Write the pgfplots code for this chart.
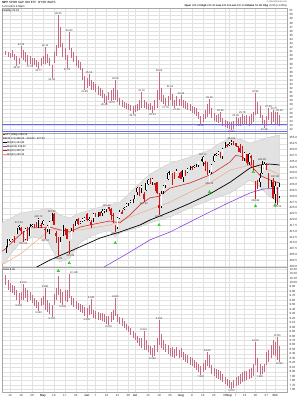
\documentclass[border=0pt]{standalone}
\usepackage{fontspec}
\setmainfont{Liberation Sans}
\usepackage{pgfplots}
\usepackage{pgfplotstable}
\pgfplotsset{compat=1.18}
\definecolor{barpink}{RGB}{200,105,130}
\definecolor{candred}{RGB}{210,20,20}
\definecolor{mapurple}{RGB}{140,70,220}
\definecolor{maorange}{RGB}{240,160,120}
\definecolor{arrowgreen}{RGB}{40,210,40}
\definecolor{gridgray}{RGB}{226,226,226}
\definecolor{bandgray}{RGB}{226,226,226}
\newcommand\tf{\fontsize{3}{3.4}\selectfont}
\newcommand\vf{\fontsize{2.6}{3}\selectfont}
\newcommand\lab[4]{\node[font=\vf, text=black!80, anchor=#4, inner sep=0.5pt] at (axis cs:#1,#2) {#3};}

\pgfplotstableread{
i h l
-2 41.17 40.19
-1 40.92 39.70
0 40.68 39.46
1 41.41 39.70
2 40.43 38.97
3 39.95 37.51
4 39.46 37.99
5 42.39 39.46
6 41.41 38.97
7 40.92 38.48
8 40.19 37.75
9 39.95 37.99
10 39.46 37.51
11 39.46 37.75
12 38.97 37.26
13 38.48 36.77
14 39.46 37.51
15 39.95 37.99
16 42.14 37.99
17 40.43 38.24
18 39.46 37.51
19 37.75 34.58
20 40.92 38.24
21 42.63 39.95
22 49.95 41.90
23 47.02 42.14
24 43.12 39.70
25 41.90 38.97
26 40.19 37.02
27 45.80 41.41
28 41.90 39.46
29 40.92 38.48
30 39.95 37.51
31 38.97 37.02
32 38.48 36.53
33 37.02 34.09
34 35.07 31.65
35 34.58 32.14
36 35.55 32.63
37 34.09 31.65
38 33.60 31.65
39 33.11 31.16
40 32.63 30.43
41 32.14 30.19
42 31.65 29.70
43 30.67 28.48
44 30.19 28.23
45 31.16 29.21
46 31.65 28.97
47 32.14 29.21
48 34.09 29.21
49 31.65 28.72
50 29.70 27.99
51 29.21 27.50
52 28.72 27.26
53 28.48 27.01
54 28.23 26.77
55 27.99 26.53
56 27.75 25.79
57 27.99 26.28
58 28.23 26.53
59 29.21 26.77
60 31.16 27.26
61 29.21 27.26
62 28.72 27.01
63 28.23 26.77
64 28.48 26.77
65 27.75 26.04
66 29.21 26.77
67 31.65 27.26
68 36.04 29.21
69 32.14 28.72
70 30.43 28.23
71 29.70 27.75
72 30.19 27.75
73 32.14 29.21
74 30.67 27.75
75 29.21 27.26
76 30.19 27.75
77 29.45 27.75
78 30.43 27.75
79 29.21 27.26
80 28.97 27.01
81 28.48 26.77
82 28.23 26.53
83 27.75 26.04
84 27.50 25.79
85 27.26 25.31
86 26.28 24.57
87 25.31 23.35
88 25.79 23.84
89 26.77 24.57
90 28.23 25.06
91 29.45 25.79
92 27.26 24.82
93 26.04 24.09
94 25.55 23.84
95 25.79 23.60
96 26.28 23.84
97 24.82 22.87
98 24.33 22.62
99 24.09 22.38
100 23.84 22.13
101 23.84 21.89
102 24.09 22.13
103 25.06 22.87
104 24.82 22.87
105 25.06 22.87
106 25.79 23.11
107 25.31 23.11
108 25.55 23.35
109 25.31 22.87
110 25.79 23.35
111 26.28 23.84
112 30.92 25.55
113 28.72 25.79
114 27.75 24.82
115 25.55 23.35
116 24.33 22.38
117 25.31 22.87
118 27.26 24.33
119 26.28 23.35
120 26.77 23.84
121 26.28 23.35
122 26.28 23.11
123 25.55 22.87
}\topdata

\pgfplotstableread{
i o h l c
-2 407.9 408.6 405.6 408.5
-1 408.4 411.7 408.3 411.5
0 410.9 411.9 410.2 411.6
1 411.5 413.0 411.1 412.9
2 412.8 413.0 410.0 411.5
3 413.7 416.2 413.7 415.9
4 417.2 417.9 415.7 417.3
5 416.3 416.7 413.8 415.2
6 413.9 415.1 410.6 412.2
7 411.5 416.3 411.2 416.1
8 415.9 416.8 411.0 412.3
9 412.9 418.3 412.8 416.7
10 417.4 418.2 416.8 417.6
11 417.9 418.1 416.3 417.5
12 417.8 419.0 416.9 417.4
13 420.3 420.7 416.3 420.1
14 417.6 418.5 416.3 417.3
15 419.4 419.8 417.6 418.2
16 416.1 416.6 411.7 415.6
17 417.4 417.6 414.9 415.8
18 415.8 419.2 413.7 419.1
19 419.9 422.8 419.2 422.1
20 422.5 422.7 417.8 417.9
21 413.1 415.3 410.1 414.2
22 411.2 412.6 404.0 405.4
23 407.1 412.6 407.0 410.3
24 413.2 417.5 412.9 416.6
25 415.4 416.4 413.4 415.5
26 415.8 416.1 411.6 411.9
27 406.9 411.0 405.3 410.9
28 411.8 416.6 411.7 415.3
29 416.9 418.2 414.5 414.9
30 417.3 420.3 417.1 419.2
31 420.3 420.7 417.6 418.2
32 418.9 419.6 418.2 419.1
33 420.2 420.7 418.9 419.3
34 420.9 421.3 419.3 420.0
35 422.6 422.7 419.2 419.7
36 420.4 421.2 419.3 420.3
37 417.9 419.9 416.3 418.8
38 420.8 422.9 418.8 422.6
39 422.6 422.8 421.2 422.2
40 423.1 423.2 421.0 422.3
41 423.2 423.3 421.4 421.6
42 422.9 424.6 421.6 423.6
43 424.2 424.4 422.8 424.3
44 424.4 425.4 423.1 425.3
45 425.4 425.5 423.5 424.5
46 424.6 424.9 419.9 422.1
47 421.7 423.0 418.7 422.0
48 417.1 417.8 414.7 414.9
49 416.8 421.1 415.9 420.9
50 420.9 424.0 420.1 423.1
51 423.2 424.1 422.5 422.6
52 424.9 425.6 424.0 425.1
53 425.9 427.1 425.6 426.6
54 427.2 427.6 425.9 427.5
55 427.9 428.6 427.2 427.7
56 427.2 428.8 427.0 428.1
57 428.9 430.6 428.8 430.4
58 431.7 434.1 430.5 433.7
59 433.8 434.0 430.0 432.9
60 433.7 434.8 431.5 434.5
61 428.8 431.7 427.5 430.9
62 432.5 435.8 432.4 435.5
63 435.4 437.4 434.9 437.1
64 436.2 437.8 435.3 435.6
65 437.4 437.9 434.9 436.2
66 435.7 435.7 432.1 434.8
67 436.0 436.1 430.9 431.3
68 426.2 431.4 422.0 425.0
69 425.7 432.4 424.8 431.1
70 432.3 434.7 431.0 434.6
71 434.7 435.7 433.7 435.5
72 437.5 440.3 436.8 439.9
73 439.3 441.0 439.3 441.0
74 439.9 439.9 435.0 439.0
75 439.7 440.3 437.3 438.8
76 439.8 441.8 439.8 440.7
77 437.9 440.1 437.8 438.5
78 440.3 440.9 437.2 437.6
79 438.2 441.3 436.1 441.2
80 439.8 441.1 438.7 439.0
81 440.2 441.9 439.8 441.8
82 442.1 442.9 441.1 442.5
83 442.5 442.8 441.3 442.1
84 443.0 443.4 441.9 442.7
85 443.8 443.9 442.6 443.8
86 443.6 445.3 442.7 445.1
87 445.6 445.9 445.1 445.9
88 444.5 447.1 442.9 447.0
89 444.2 445.0 440.9 444.0
90 443.0 444.6 438.9 439.2
91 436.3 441.1 436.1 439.9
92 440.2 443.7 439.7 443.4
93 445.2 448.2 444.7 447.3
94 447.6 448.5 447.4 448.0
95 448.2 449.5 447.8 448.9
96 448.6 448.9 446.2 446.3
97 447.1 450.7 446.1 450.3
98 451.0 453.1 450.7 452.2
99 452.1 452.5 450.9 451.6
100 452.6 453.1 451.6 451.8
101 452.8 454.1 451.9 453.2
102 452.0 453.6 451.9 453.1
103 452.7 452.8 451.3 451.5
104 451.4 451.7 449.1 450.9
105 450.7 452.6 448.7 449.0
106 451.0 451.4 445.3 445.4
107 448.6 448.9 444.9 446.6
108 448.1 448.3 443.2 444.2
109 444.6 448.4 443.4 447.9
110 446.3 447.6 443.4 447.2
111 444.9 445.4 441.0 441.4
112 434.9 436.6 428.9 434.0
113 436.5 437.0 433.1 433.6
114 436.1 440.0 433.8 437.9
115 439.9 444.9 439.6 443.2
116 441.4 444.7 441.2 443.9
117 443.3 444.1 441.2 442.6
118 439.7 440.0 433.5 433.7
119 435.2 437.0 433.9 434.4
120 436.0 437.8 428.8 429.1
121 431.0 436.0 427.2 434.2
122 433.0 434.0 426.4 428.6
123 430.2 435.5 429.4 434.1
}\spydata

% the down days (close below the previous close), drawn in red
\pgfplotstableread{
i o h l c
2 412.8 413.0 410.0 411.5
5 416.3 416.7 413.8 415.2
6 413.9 415.1 410.6 412.2
8 415.9 416.8 411.0 412.3
11 417.9 418.1 416.3 417.5
12 417.8 419.0 416.9 417.4
14 417.6 418.5 416.3 417.3
16 416.1 416.6 411.7 415.6
20 422.5 422.7 417.8 417.9
21 413.1 415.3 410.1 414.2
22 411.2 412.6 404.0 405.4
25 415.4 416.4 413.4 415.5
26 415.8 416.1 411.6 411.9
27 406.9 411.0 405.3 410.9
29 416.9 418.2 414.5 414.9
31 420.3 420.7 417.6 418.2
35 422.6 422.7 419.2 419.7
37 417.9 419.9 416.3 418.8
39 422.6 422.8 421.2 422.2
41 423.2 423.3 421.4 421.6
45 425.4 425.5 423.5 424.5
46 424.6 424.9 419.9 422.1
47 421.7 423.0 418.7 422.0
48 417.1 417.8 414.7 414.9
51 423.2 424.1 422.5 422.6
59 433.8 434.0 430.0 432.9
61 428.8 431.7 427.5 430.9
64 436.2 437.8 435.3 435.6
66 435.7 435.7 432.1 434.8
67 436.0 436.1 430.9 431.3
68 426.2 431.4 422.0 425.0
74 439.9 439.9 435.0 439.0
75 439.7 440.3 437.3 438.8
77 437.9 440.1 437.8 438.5
78 440.3 440.9 437.2 437.6
80 439.8 441.1 438.7 439.0
83 442.5 442.8 441.3 442.1
89 444.2 445.0 440.9 444.0
90 443.0 444.6 438.9 439.2
96 448.6 448.9 446.2 446.3
99 452.1 452.5 450.9 451.6
102 452.0 453.6 451.9 453.1
103 452.7 452.8 451.3 451.5
104 451.4 451.7 449.1 450.9
105 450.7 452.6 448.7 449.0
106 451.0 451.4 445.3 445.4
108 448.1 448.3 443.2 444.2
110 446.3 447.6 443.4 447.2
111 444.9 445.4 441.0 441.4
112 434.9 436.6 428.9 434.0
113 436.5 437.0 433.1 433.6
117 443.3 444.1 441.2 442.6
118 439.7 440.0 433.5 433.7
120 436.0 437.8 428.8 429.1
122 433.0 434.0 426.4 428.6
}\spydown

\pgfplotstableread{
i h l
-2 10.17 9.94
-1 10.06 9.83
0 9.99 9.79
1 9.94 9.76
2 9.92 9.72
3 9.83 9.61
4 9.76 9.52
5 9.79 9.61
6 9.97 9.61
7 9.88 9.65
8 9.83 9.56
9 9.79 9.61
10 9.72 9.54
11 9.65 9.47
12 9.61 9.43
13 9.56 9.36
14 9.65 9.47
15 9.70 9.50
16 9.88 9.38
17 9.61 9.34
18 9.54 9.29
19 9.50 9.23
20 9.74 9.50
21 9.88 9.61
22 10.15 9.72
23 9.85 9.54
24 9.79 9.50
25 9.83 9.59
26 9.83 9.56
27 10.19 9.65
28 9.70 9.50
29 9.65 9.45
30 9.59 9.41
31 9.54 9.38
32 9.52 9.34
33 9.50 9.32
34 9.45 9.25
35 9.43 9.20
36 9.50 9.27
37 9.63 9.29
38 9.38 9.20
39 9.36 9.18
40 9.34 9.16
41 9.32 9.16
42 9.32 9.14
43 9.29 9.11
44 9.25 9.07
45 9.25 9.05
46 9.34 9.11
47 9.38 9.16
48 9.65 9.25
49 9.29 9.11
50 9.23 9.07
51 9.20 9.02
52 9.14 8.98
53 9.07 8.94
54 9.02 8.89
55 8.98 8.82
56 8.91 8.76
57 8.87 8.71
58 8.80 8.64
59 8.76 8.58
60 8.76 8.53
61 8.91 8.49
62 8.71 8.49
63 8.60 8.44
64 8.58 8.37
65 8.53 8.33
66 8.60 8.35
67 8.76 8.44
68 9.16 8.60
69 8.85 8.53
70 8.71 8.49
71 8.62 8.44
72 8.60 8.40
73 8.53 8.35
74 8.55 8.33
75 8.51 8.31
76 8.55 8.35
77 8.49 8.31
78 8.53 8.33
79 8.44 8.26
80 8.40 8.22
81 8.37 8.20
82 8.33 8.15
83 8.31 8.13
84 8.26 8.08
85 8.22 8.04
86 8.17 7.99
87 8.13 7.93
88 8.20 7.99
89 8.26 8.04
90 8.44 8.13
91 8.37 8.08
92 8.15 7.95
93 8.08 7.90
94 8.06 7.86
95 8.04 7.84
96 8.02 7.81
97 7.95 7.77
98 7.88 7.72
99 7.84 7.68
100 7.81 7.64
101 7.77 7.61
102 7.81 7.64
103 7.88 7.68
104 7.90 7.70
105 7.95 7.72
106 7.99 7.77
107 8.02 7.79
108 8.02 7.81
109 8.06 7.84
110 8.08 7.86
111 8.17 7.90
112 8.67 8.15
113 8.31 7.99
114 8.17 7.93
115 8.13 7.95
116 8.17 7.99
117 8.44 8.15
118 8.49 8.22
119 8.60 8.31
120 8.71 8.37
121 8.67 8.35
122 8.78 8.26
123 8.58 8.22
}\botdata

\pgfplotsset{
  panel/.style={
    scale only axis, width=285pt, xmin=-3.7, xmax=126.4,
    axis line style={gray!70, line width=0.3pt},
    xmajorgrids, ymajorgrids,
    major grid style={gridgray, line width=0.25pt},
    xtick={0,5,10,15,20,25,30,35,39,44,49,54,57,63,68,73,78,83,88,93,98,100,103,107,112,117,121},
    xticklabels={},
    yticklabel pos=right,
    major tick length=0pt,
    ticklabel style={font=\tf, text=black!80},
    yticklabel style={/pgf/number format/assume math mode=true, xshift=-1pt},
  },
  hl/.style={barpink, line width=0.45pt, quiver={u=0, v=\thisrow{h}-\thisrow{l}}},
}

\begin{document}
\begin{tikzpicture}
\useasboundingbox (0,0) rectangle (300pt,399pt);
\fill[white] (0,0) rectangle (300pt,399pt);

% ---------------- top panel
\begin{axis}[panel, at={(2pt,266pt)}, anchor=south west, height=125pt,
  ymin=21.16, ymax=51.66, ytick={22,23,...,51},
  yticklabel style={/pgf/number format/.cd, fixed, precision=0}]
\addplot[hl] table[x=i, y=l] {\topdata};
\addplot[blue!60, line width=0.5pt] coordinates {(-3.7,23.35) (126.4,23.35)};
\addplot[blue!60, line width=0.5pt] coordinates {(-3.7,21.6) (126.4,21.6)};
\lab{5}{42.39}{42.39}{south}
\lab{3}{37.51}{38.02}{north}
\lab{9}{37.75}{37.75}{north}
\lab{13}{36.77}{36.77}{north}
\lab{16}{42.14}{42.14}{south}
\lab{19}{34.58}{34.58}{north}
\lab{22}{49.95}{49.95}{south}
\lab{27}{45.80}{45.80}{south}
\lab{26}{37.02}{37.02}{north}
\lab{34}{31.65}{31.65}{north}
\lab{36}{35.55}{35.55}{south}
\lab{43}{28.48}{28.48}{north}
\lab{46.5}{28.97}{28.97}{north}
\lab{48}{34.09}{34.09}{south}
\lab{56}{25.79}{25.79}{north}
\lab{60}{31.16}{31.16}{south}
\lab{65}{26.04}{26.04}{north}
\lab{68}{36.04}{36.04}{south}
\lab{71}{27.75}{27.75}{north}
\lab{73}{32.14}{32.14}{south}
\lab{76}{27.26}{27.26}{north}
\lab{78}{30.43}{30.43}{south}
\lab{87}{23.35}{23.35}{north}
\lab{91}{29.45}{29.45}{south}
\lab{96}{26.28}{26.28}{south}
\lab{101}{21.89}{21.89}{north}
\lab{103}{25.06}{25.06}{south}
\lab{106}{25.79}{25.79}{south}
\lab{112}{30.92}{30.92}{south}
\lab{116}{22.38}{22.38}{north}
\lab{118}{27.26}{27.26}{south}
\lab{120.5}{26.77}{26.77}{south}
\lab{123}{26.28}{26.28}{south}
\node[font=\vf, fill=yellow!90!orange, inner sep=0.6pt, anchor=west] at (axis cs:126.4,24.2) {24.20};
\end{axis}

% ---------------- middle panel
\begin{axis}[panel, at={(2pt,132pt)}, anchor=south west, height=134pt,
  ymin=399.7, ymax=457.1, ytick={400,402.5,...,457.5},
  yticklabel style={/pgf/number format/.cd, fixed, fixed zerofill, precision=1}]
\addplot[fill=bandgray, draw=gray!45, line width=0.3pt] coordinates {
 (-3.7,418.8) (-2,419.4) (4.5,422.8) (13.6,424.1) (18.2,425.0) (22.7,422.0) (27.3,420.7) (31.9,422.8) (36.4,424.1) (41,425.4) (45.6,426.3) (50.1,427.5) (54.7,431.4) (59.3,435.7) (63.8,439.5) (73,444.2) (82.1,446.8) (91.2,449.8) (95.8,452.8) (100.4,454.9) (104.9,454.5) (109.5,452.8) (114,454.1) (118.6,455.4) (123,456.2)
 (123,427.5) (118.6,429.7) (114,434.0) (109.5,437.0) (104.9,434.0) (100.4,431.4) (91.2,428.4) (82.1,425.0) (73,421.1) (63.8,418.6) (59.3,416.8) (54.7,415.6) (50.1,414.3) (47.9,412.6) (45.6,415.6) (41,414.3) (36.4,412.6) (31.9,410.0) (27.3,403.6) (22.7,401.9) (20.5,404.9) (16.8,411.3) (10.4,412.6) (4.5,410.0) (0,404.9) (-2,401.9) (-3.7,400.8)} -- cycle;
% moving averages
\addplot[maorange, line width=0.4pt] coordinates {
 (-3.7,400.8) (-2,401.5) (5,405.5) (18.2,415.6) (31.9,415.6) (45.6,417.7) (59.3,422.8) (73,427.5) (82.1,431.8) (91.2,435.7) (100.4,441.2) (109.5,443.4) (118.6,441.2) (123,439.1)};
\addplot[mapurple, line width=0.6pt] coordinates {
 (42,399.2) (54.7,406.1) (63.8,411.3) (73,414.7) (82.1,419.0) (91.2,423.3) (100.4,427.5) (109.5,431.4) (115.4,433.1) (123,433.5)};
\addplot[black, line width=0.7pt] coordinates {
 (12,399.6) (18.2,402.7) (31.9,408.3) (41,412.1) (50.1,414.7) (59.3,417.7) (63.8,419.8) (73,423.3) (82.1,427.0) (91.2,431.0) (100.4,436.0) (104.9,439.0) (109.5,442.1) (114,443.4) (118.6,443.8) (123,443.4)};
\addplot[candred!90, line width=0.6pt] coordinates {
 (-3.7,406.5) (-2,407.5) (0,409.5) (4.5,413.5) (9,416.4) (18.2,416.8) (22.7,415.6) (27.3,414.7) (31.9,416.8) (36.4,417.7) (41,418.6) (45.6,419.4) (50.1,418.6) (54.7,422.0) (59.3,426.3) (63.8,429.3) (68,430.0) (73,433.5) (82.1,435.7) (91.2,439.1) (100.4,444.7) (103,447.5) (106,447.0) (110,443.0) (114,439.0) (118.6,437.0) (123,435.7)};
% candles: black outline, hollow interior; down days filled red on top
\addplot[black, line width=0.35pt, quiver={u=0, v=\thisrow{h}-\thisrow{l}}] table[x=i, y=l] {\spydata};
\addplot[black, line width=1.4pt, quiver={u=0, v=\thisrow{c}-\thisrow{o}}] table[x=i, y=o] {\spydata};
\addplot[white, line width=0.6pt, quiver={u=0, v=\thisrow{c}-\thisrow{o}}] table[x=i, y=o] {\spydata};
\addplot[candred, line width=0.35pt, quiver={u=0, v=\thisrow{h}-\thisrow{l}}] table[x=i, y=l] {\spydown};
\addplot[candred, line width=1.4pt, quiver={u=0, v=\thisrow{c}-\thisrow{o}}] table[x=i, y=o] {\spydown};
% signal arrows
\addplot[only marks, mark=triangle*, mark size=1.5pt, color=arrowgreen] coordinates {
 (27,401.4) (48,410.0) (68,417.7) (91,431.8) (111,440.4) (112,425.8) (121,426.3)};
\lab{4}{417.9}{417.94}{south}
\lab{6}{410.6}{410.60}{north}
\lab{13}{420.7}{420.72}{south}
\lab{16}{411.7}{411.67}{north}
\lab{19}{422.8}{422.82}{south}
\lab{22}{404.0}{404.00}{north}
\lab{27.5}{405.3}{405.33}{north}
\lab{44}{425.4}{425.42}{south}
\lab{48}{414.7}{414.70}{north}
\lab{61}{427.5}{427.52}{north}
\lab{68}{422.0}{421.97}{north}
\lab{88}{447.1}{447.11}{south}
\lab{91}{436.1}{436.10}{north}
\lab{101}{454.1}{454.05}{south}
\lab{112}{428.9}{428.86}{north}
\lab{115}{444.9}{444.89}{south}
\lab{121}{437.8}{437.84}{south}
\lab{122}{426.4}{426.36}{north}
\node[font=\vf, fill=yellow!90!orange, inner sep=0.6pt, anchor=west] at (axis cs:126.4,443.4) {443.40};
\node[font=\vf, fill=yellow!90!orange, inner sep=0.6pt, anchor=west] at (axis cs:126.4,434.1) {434.14};
\end{axis}

% ---------------- bottom panel
\begin{axis}[panel, at={(2pt,7pt)}, anchor=south west, height=125pt,
  ymin=7.545, ymax=10.347, ytick={7.6,7.7,...,10.35},
  yticklabel style={/pgf/number format/.cd, fixed, fixed zerofill, precision=2},
  xticklabels={12,19,26,\textbf{May},10,17,24,\textbf{Jun},7,14,21,28,\textbf{Jul},12,19,26,\textbf{Aug},9,16,23,30,\textbf{Sep},7,13,20,27,\textbf{Oct}},
  xticklabel style={yshift=1.2pt}]
\addplot[hl] table[x=i, y=l] {\botdata};
\addplot[only marks, mark=triangle*, mark size=1.5pt, color=arrowgreen] coordinates {(22,10.26)};
\lab{6}{9.97}{9.970}{south}
\lab{4}{9.52}{9.520}{north}
\lab{13}{9.36}{9.360}{north}
\lab{16}{9.88}{9.880}{south}
\lab{19}{9.23}{9.230}{north}
\lab{27}{10.19}{10.190}{south west}
\lab{24}{9.50}{9.500}{north}
\lab{35}{9.20}{9.200}{north}
\lab{37}{9.63}{9.630}{south}
\lab{45}{9.05}{9.050}{north}
\lab{48}{9.65}{9.650}{south}
\lab{61}{8.91}{8.910}{south}
\lab{65}{8.33}{8.330}{north}
\lab{68}{9.16}{9.160}{south}
\lab{87}{7.93}{7.930}{north}
\lab{90}{8.44}{8.440}{south}
\lab{101}{7.61}{7.610}{north}
\lab{112}{8.67}{8.670}{south}
\lab{114}{7.93}{7.930}{north}
\lab{122}{8.78}{8.780}{south}
\lab{123}{8.22}{8.220}{north}
\node[font=\vf, fill=yellow!90!orange, inner sep=0.6pt, anchor=west] at (axis cs:126.4,8.40) {8.40};
\end{axis}

% ---------------- header and legend texts
\node[font=\tf, anchor=west, inner sep=0] at (2pt,396.5pt) {\textbf{SPY} SPDR S\&P 500 ETF\ \ NYSE+BATS};
\node[font=\vf, anchor=west, inner sep=0] at (2pt,392.5pt) {5-Oct-2021 4:00pm};
\node[font=\vf, anchor=west, inner sep=0] at (2pt,388.5pt) {Volatility 25.18};
\node[font=\fontsize{2.3}{2.6}\selectfont, anchor=east, inner sep=0, text=black!70] at (287pt,397.5pt) {\copyright\ StockCharts.com};
\node[font=\vf, anchor=east, inner sep=0] at (287pt,393pt) {\textbf{Open} 430.24 \textbf{High} 435.49 \textbf{Low} 429.39 \textbf{Last} 434.14 \textbf{Volume} 56.4M \textbf{Chg} +5.50 (+1.28\%)};

\node[font=\vf, anchor=west, inner sep=0] at (3pt,264.5pt) {\textcolor{candred}{\rule{1.6pt}{1.6pt}}\,SPY (Daily) 434.14};
\node[font=\vf, anchor=west, inner sep=0] at (3pt,260.5pt) {BB(20,2.0) 456.20 - 441.80 - 427.50};
\node[font=\vf, anchor=west, inner sep=0] at (3pt,256.5pt) {\textcolor{black}{\rule[0.8pt]{4pt}{0.5pt}}MA(50) 443.40};
\node[font=\vf, anchor=west, inner sep=0] at (3pt,252.5pt) {\textcolor{mapurple}{\rule[0.8pt]{4pt}{0.5pt}}MA(100) 433.50};
\node[font=\vf, anchor=west, inner sep=0] at (3pt,248.5pt) {\textcolor{candred}{\rule[0.8pt]{4pt}{0.5pt}}MA(10) 435.70};
\node[font=\vf, anchor=west, inner sep=0] at (3pt,244.5pt) {\textcolor{maorange}{\rule[0.8pt]{4pt}{0.5pt}}MA(20) 439.10};

\node[font=\vf, anchor=west, inner sep=0] at (3pt,129.5pt) {Ratio 8.45};
\end{tikzpicture}
\end{document}
